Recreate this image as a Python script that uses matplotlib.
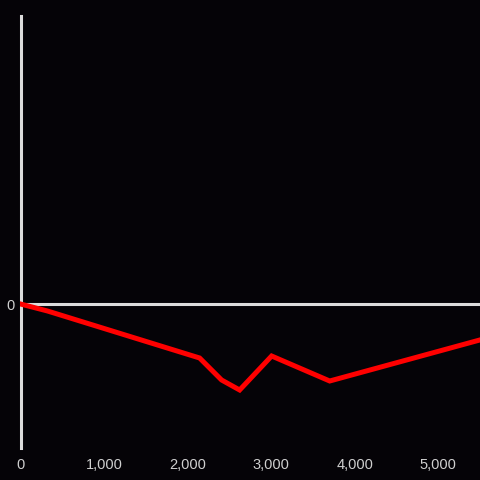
import matplotlib
matplotlib.use("Agg")
import matplotlib.pyplot as plt
from matplotlib.ticker import FuncFormatter

x_vals = [0, 323, 2144, 2407, 2623, 3006, 3701, 5497]
y_vals = [0, -7, -54, -76, -86, -52, -77, -36]
x_ticks = [0, 1000, 2000, 3000, 4000, 5000]
y_ticks = [0]

bg = "#050307"
axis_col = "#dcdcdc"
label_col = "#cfcfcf"

plt.rcParams['font.family'] = ['Liberation Sans', 'DejaVu Sans']
fig = plt.figure(figsize=(4.8, 4.8), dpi=100, facecolor=bg)
ax = fig.add_axes([20/480, 32/480, 460/480, 432/480])
ax.set_facecolor(bg)

ax.axhline(0, color=axis_col, lw=2.2, zorder=2)
ax.plot(x_vals, y_vals, color="#ff0000", lw=3.6, solid_joinstyle='miter', zorder=3)

ax.set_xlim(-6, 5500)
ax.set_ylim(-144, 288)
ax.set_xticks(x_ticks)
ax.set_yticks(y_ticks)
ax.xaxis.set_major_formatter(FuncFormatter(lambda v, p: f"{int(v):,}"))
ax.tick_params(axis='both', length=0, colors=label_col, labelsize=10.5)
ax.tick_params(axis='x', pad=7)
ax.tick_params(axis='y', pad=4)

for s in ['top', 'right', 'bottom']:
    ax.spines[s].set_visible(False)
ax.spines['left'].set_color(axis_col)
ax.spines['left'].set_linewidth(2.2)
ax.spines['left'].set_position(('data', 0))

fig.savefig("out.png", dpi=100, facecolor=bg)
